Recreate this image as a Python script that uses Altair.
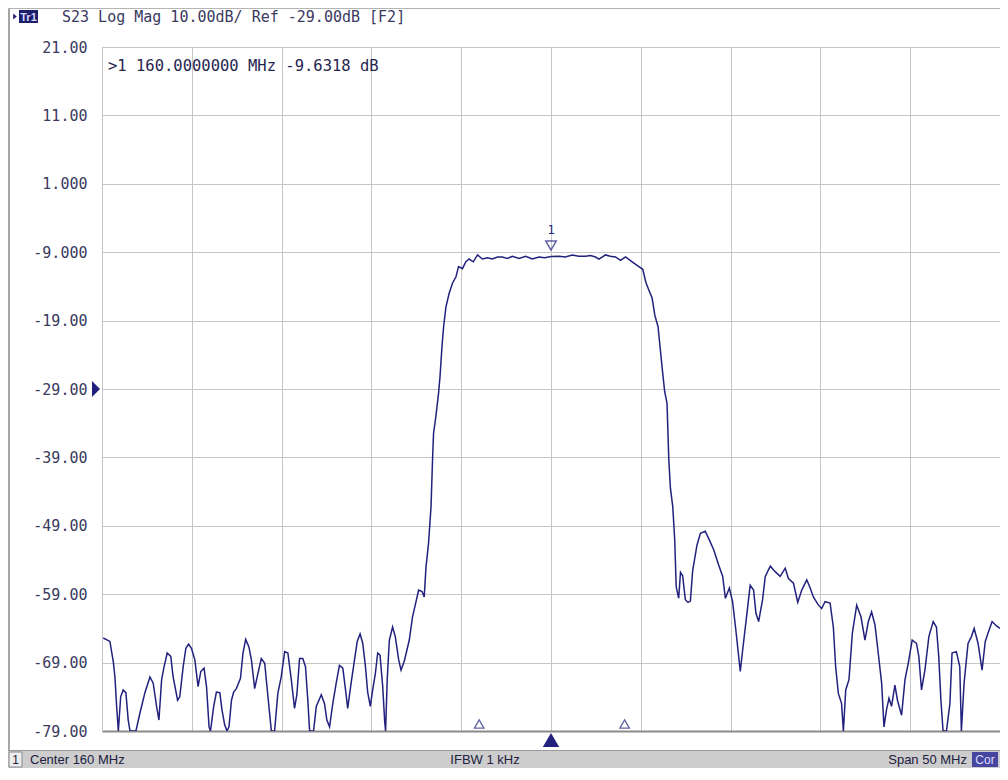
import altair as alt
import pandas as pd

# ---------------- data ----------------
freq_mhz = [
    135.07, 135.44, 135.63, 135.72, 135.82, 135.91, 136.04, 136.18, 136.33, 136.46,
    136.56, 136.89, 137.11, 137.39, 137.67, 137.85, 138.04, 138.17, 138.32, 138.44,
    138.63, 138.83, 138.96, 139.21, 139.33, 139.52, 139.67, 139.82, 139.98, 140.17,
    140.35, 140.50, 140.68, 140.82, 140.96, 141.04, 141.22, 141.37, 141.56, 141.68,
    141.83, 141.96, 142.07, 142.21, 142.33, 142.48, 142.71, 142.85, 143.00, 143.18,
    143.32, 143.50, 143.68, 143.87, 144.06, 144.24, 144.43, 144.61, 144.79, 144.98,
    145.17, 145.35, 145.54, 145.72, 145.85, 146.00, 146.18, 146.33, 146.46, 146.56,
    146.78, 146.93, 147.21, 147.39, 147.52, 147.67, 147.85, 148.04, 148.22, 148.41,
    148.56, 148.68, 148.87, 149.06, 149.21, 149.37, 149.52, 149.67, 149.79, 149.94,
    150.07, 150.22, 150.35, 150.48, 150.63, 150.74, 150.79, 150.88, 151.00, 151.18,
    151.33, 151.52, 151.65, 151.83, 152.11, 152.29, 152.44, 152.63, 152.82, 152.94,
    153.04, 153.18, 153.32, 153.41, 153.46, 153.59, 153.74, 153.82, 153.93, 154.02,
    154.15, 154.33, 154.52, 154.71, 154.85, 155.07, 155.26, 155.44, 155.67, 155.91,
    156.18, 156.46, 156.74, 157.02, 157.29, 157.57, 157.85, 158.22, 158.59, 158.96,
    159.33, 159.65, 160.00, 160.44, 160.80, 161.18, 161.55, 161.93, 162.20, 162.48,
    162.67, 163.04, 163.30, 163.59, 163.87, 164.15, 164.52, 164.89, 165.11, 165.28,
    165.44, 165.63, 165.78, 165.96, 166.09, 166.18, 166.33, 166.46, 166.56, 166.65,
    166.78, 166.89, 166.97, 167.11, 167.21, 167.33, 167.48, 167.63, 167.76, 167.89,
    168.13, 168.32, 168.59, 168.82, 169.06, 169.33, 169.56, 169.71, 169.93, 170.11,
    170.29, 170.54, 170.67, 170.91, 171.09, 171.28, 171.41, 171.56, 171.78, 171.93,
    172.21, 172.48, 172.76, 173.04, 173.22, 173.50, 173.74, 173.96, 174.24, 174.43,
    174.61, 174.89, 175.07, 175.26, 175.54, 175.72, 175.85, 176.00, 176.18, 176.28,
    176.41, 176.59, 176.78, 177.02, 177.26, 177.48, 177.67, 177.85, 178.04, 178.22,
    178.41, 178.54, 178.68, 178.82, 178.96, 179.15, 179.29, 179.52, 179.71, 179.89,
    180.11, 180.35, 180.48, 180.63, 180.82, 181.04, 181.28, 181.46, 181.59, 181.71,
    181.83, 182.02, 182.21, 182.33, 182.57, 182.76, 182.85, 183.00, 183.22, 183.41,
    183.56, 183.78, 184.00, 184.18, 184.33, 184.56, 184.79, 185.00,
]
s23_db = [
    -65.4, -65.9, -68.9, -71.1, -75.6, -79.0, -74.0, -73.0, -73.4, -77.4,
    -79.0, -79.0, -76.4, -73.4, -71.1, -72.0, -75.4, -77.4, -71.5, -69.8,
    -67.6, -68.1, -71.1, -74.5, -74.0, -69.6, -66.9, -66.3, -66.9, -68.6,
    -72.5, -70.3, -69.8, -72.5, -78.4, -79.0, -75.4, -73.3, -73.4, -75.9,
    -78.1, -79.0, -78.4, -74.5, -73.3, -72.8, -71.3, -67.6, -65.6, -66.7,
    -68.6, -72.8, -70.6, -68.4, -69.1, -74.0, -79.0, -79.0, -73.5, -71.1,
    -67.4, -67.6, -71.5, -75.7, -73.7, -68.4, -68.4, -69.6, -74.5, -79.0,
    -79.0, -75.4, -73.7, -75.0, -77.4, -78.4, -75.0, -72.0, -69.4, -69.8,
    -73.0, -75.7, -72.0, -68.6, -65.9, -64.8, -66.2, -69.6, -73.3, -75.4,
    -73.0, -70.6, -67.6, -67.9, -72.5, -77.6, -79.0, -71.5, -65.7, -63.8,
    -65.2, -68.6, -70.1, -68.8, -65.7, -62.3, -60.6, -58.4, -58.6, -59.4,
    -55.0, -51.6, -46.2, -38.9, -35.5, -33.0, -29.6, -27.2, -22.8, -19.9,
    -17.0, -15.0, -13.5, -12.6, -11.1, -11.4, -10.4, -10.0, -10.4, -9.4,
    -10.0, -9.8, -10.0, -9.7, -9.7, -9.9, -9.6, -9.9, -9.6, -10.0,
    -9.7, -9.8, -9.63, -9.6, -9.7, -9.4, -9.6, -9.6, -9.5, -9.7,
    -10.0, -9.4, -9.6, -9.7, -10.2, -9.7, -10.4, -11.1, -11.5, -13.4,
    -14.5, -15.7, -18.2, -19.9, -23.3, -25.7, -29.4, -31.1, -39.4, -43.5,
    -46.2, -51.1, -57.9, -59.6, -55.8, -56.3, -59.8, -60.2, -60.0, -55.5,
    -51.8, -50.1, -49.8, -51.1, -52.5, -54.7, -56.4, -59.6, -58.1, -60.1,
    -64.2, -70.3, -67.2, -61.8, -57.7, -58.4, -61.8, -63.0, -59.8, -56.4,
    -54.9, -55.7, -56.4, -55.2, -56.7, -57.4, -60.2, -58.4, -56.9, -58.1,
    -59.4, -60.6, -61.1, -60.1, -60.3, -63.8, -69.6, -73.5, -75.0, -79.0,
    -73.0, -71.5, -64.7, -60.6, -62.3, -65.7, -63.0, -61.6, -63.5, -67.6,
    -72.0, -78.4, -75.9, -74.2, -75.4, -72.3, -74.5, -76.7, -71.5, -69.1,
    -65.7, -66.2, -68.1, -73.0, -70.1, -65.2, -63.0, -63.8, -68.1, -74.5,
    -79.0, -79.0, -75.0, -67.6, -67.4, -69.6, -79.0, -72.0, -66.2, -65.2,
    -64.0, -66.2, -70.1, -65.9, -64.7, -63.0, -63.6, -64.0,
]

x_ticks = [135, 140, 145, 150, 155, 160, 165, 170, 175, 180, 185]
y_ticks = [21, 11, 1, -9, -19, -29, -39, -49, -59, -69, -79]
y_tick_labels = ["21.00", "11.00", "1.000", "-9.000", "-19.00", "-29.00",
                 "-39.00", "-49.00", "-59.00", "-69.00", "-79.00"]
y_min, y_max = -79, 21
ref_level = [-29]
marker_freq = [160.0]
marker_db = [-9.6318]
marker_ids = ["1"]
bw_freq = [156.0, 164.1]

trace_tag = "Tr1"
header_text = "S23 Log Mag 10.00dB/ Ref -29.00dB [F2]"
readout_text = ">1  160.0000000 MHz -9.6318 dB"
status_channel = "1"
status_center = "Center 160 MHz"
status_ifbw = "IFBW 1 kHz"
status_span = "Span 50 MHz"
status_cor = "Cor"

# ---------------- styling ----------------
W, H = 898, 684
NAVY = "#22227e"
GRID = "#c6c6c6"
TXT = "#3a3a5e"
MONO = "DejaVu Sans Mono"
SANS = "Liberation Sans"

xs = alt.Scale(domain=[135, 185], nice=False, zero=False)
ys = alt.Scale(domain=[y_min, y_max], nice=False, zero=False)

label_expr = "".join(
    f"datum.value == {v} ? '{t}' : " for v, t in zip(y_ticks, y_tick_labels)
) + "''"

trace_df = pd.DataFrame({"f": freq_mhz, "db": s23_db})

trace = alt.Chart(trace_df).mark_line(color=NAVY, strokeWidth=1.5, clip=True).encode(
    x=alt.X("f:Q", scale=xs, title=None,
            axis=alt.Axis(values=x_ticks, labels=False, ticks=False, grid=True,
                          gridColor=GRID, gridWidth=1, domain=True,
                          domainColor="#8a8a8a", domainWidth=2)),
    y=alt.Y("db:Q", scale=ys, title=None,
            axis=alt.Axis(values=y_ticks, labelExpr=label_expr, ticks=False, grid=True,
                          gridColor=GRID, gridWidth=1, domain=True, domainColor=GRID,
                          labelFont=MONO, labelFontSize=15, labelColor=TXT,
                          labelPadding=15)),
)

mk_df = pd.DataFrame({"f": marker_freq, "db": marker_db, "id": marker_ids})
marker_tri = alt.Chart(mk_df).mark_point(
    shape="triangle-down", filled=False, color=NAVY, size=110, strokeWidth=1.5, yOffset=-11
).encode(x=alt.X("f:Q", title=None), y=alt.Y("db:Q", title=None))
marker_num = alt.Chart(mk_df).mark_text(
    font=MONO, fontSize=12, color=NAVY, yOffset=-27
).encode(x=alt.X("f:Q", title=None), y=alt.Y("db:Q", title=None), text="id:N")

bw_df = pd.DataFrame({"f": bw_freq, "db": [y_min] * len(bw_freq)})
bw_tri = alt.Chart(bw_df).mark_point(
    shape="triangle-up", filled=False, color=NAVY, size=90, strokeWidth=1.3, yOffset=-7
).encode(x=alt.X("f:Q", title=None), y=alt.Y("db:Q", title=None))

ctr_df = pd.DataFrame({"f": marker_freq, "db": [y_min]})
ctr_tri = alt.Chart(ctr_df).mark_point(
    shape="triangle-up", filled=True, color=NAVY, opacity=1, size=270, yOffset=9
).encode(x=alt.X("f:Q", title=None), y=alt.Y("db:Q", title=None))

ref_df = pd.DataFrame({"f": [135.0], "db": ref_level})
ref_tri = alt.Chart(ref_df).mark_point(
    shape="M-0.5,-1L0.5,0L-0.5,1Z", filled=True, color=NAVY, opacity=1,
    size=256, xOffset=-6
).encode(x=alt.X("f:Q", title=None), y=alt.Y("db:Q", title=None))

one = pd.DataFrame({"k": [0]})


def box(x, x2, y, y2, fill, stroke=None):
    kw = {"fill": fill}
    if stroke:
        kw.update(stroke=stroke, strokeWidth=1)
    return alt.Chart(one).mark_rect(**kw).encode(
        x=alt.value(x), x2=alt.value(x2), y=alt.value(y), y2=alt.value(y2))


def label(txt, x, y, **kw):
    return alt.Chart(pd.DataFrame({"t": [txt]})).mark_text(baseline="alphabetic", **kw).encode(
        x=alt.value(x), y=alt.value(y), text="t:N")


frame_left = box(-94, -92, -39, 721, "#a6a6a6")
frame_top = box(-94, W, -39, -38, "#b4b4b4")
tag_arrow = alt.Chart(one).mark_point(
    shape="M-0.6,-1L0.6,0L-0.6,1Z", filled=True, color=NAVY, opacity=1, size=36
).encode(x=alt.value(-87), y=alt.value(-30.5))
tag_box = box(-83, -64, -37, -24, "#1e1e6a")
tag_txt = label(trace_tag, -73.5, -26.5, font=SANS, fontSize=11, fontWeight="bold",
                color="#d6d6ff", align="center")
header = label(header_text, -40, -25, font=MONO, fontSize=15, color=TXT, align="left")
readout = label(readout_text, 6, 24, font=MONO, fontSize=15.5, color="#262650", align="left")

bar = box(-94, W, 703, 721, "#cdcdcd")
bar_top = box(-94, W, 703, 704, "#9a9a9a")
ch_box = box(-93, -80, 705, 720, "#ececec", stroke="#8a8a8a")
ch_txt = label(status_channel, -86.5, 717, font=SANS, fontSize=12, color="#202040", align="center")
center_txt = label(status_center, -72, 717, font=SANS, fontSize=13, color="#202040", align="left")
ifbw_txt = label(status_ifbw, 383, 717, font=SANS, fontSize=13, color="#202040", align="center")
span_txt = label(status_span, 865, 717, font=SANS, fontSize=13, color="#202040", align="right")
cor_box = box(870, 896, 705, 720, "#4646a0")
cor_txt = label(status_cor, 883, 717, font=SANS, fontSize=12, color="#dcdcff", align="center")

chart = alt.layer(
    frame_left, frame_top, bar, bar_top, ch_box, ch_txt, center_txt, ifbw_txt, span_txt,
    cor_box, cor_txt, tag_arrow, tag_box, tag_txt, header,
    trace, readout, marker_tri, marker_num, bw_tri, ctr_tri, ref_tri,
).properties(
    width=W, height=H,
    padding={"left": 94, "top": 39, "right": 0, "bottom": 37},
    autosize=alt.AutoSizeParams(type="none"),
    background="white",
).configure_view(strokeWidth=0)

chart.save("out.html", embed_options={"renderer": "svg", "actions": False})
